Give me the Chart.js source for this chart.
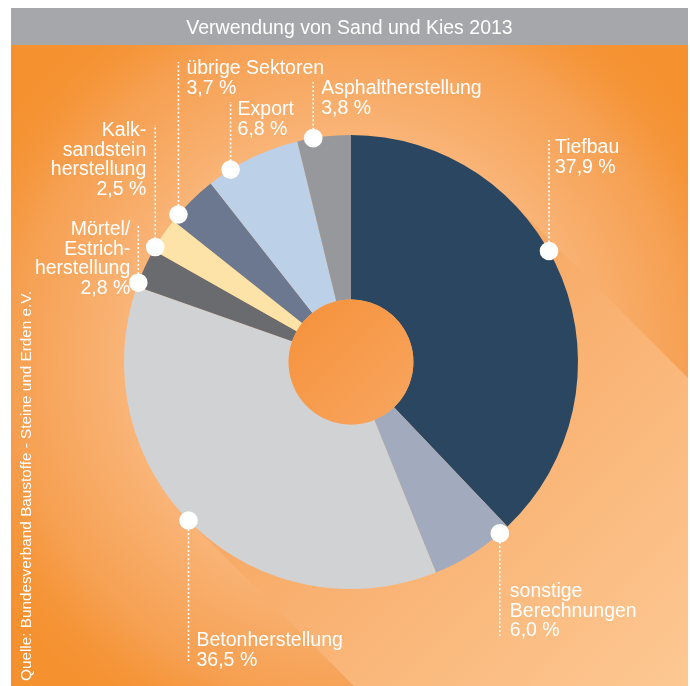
<!DOCTYPE html>
<html lang="de">
<head>
<meta charset="utf-8">
<title>Verwendung von Sand und Kies 2013</title>
<script src="https://cdn.jsdelivr.net/npm/chart.js@4.4.1/dist/chart.umd.min.js"></script>
<style>
  html, body { margin: 0; padding: 0; background: #fff; }
  #wrap { width: 690px; height: 686px; }
</style>
</head>
<body>
<div id="wrap"><canvas id="chartSand" width="690" height="686"></canvas></div>
<script>
const TITLE = 'Verwendung von Sand und Kies 2013';
const SOURCE = 'Quelle: Bundesverband Baustoffe - Steine und Erden e.V.';

// clockwise from 12 o'clock
const categories = [
  'Tiefbau',
  'sonstige Berechnungen',
  'Betonherstellung',
  'Mörtel/Estrichherstellung',
  'Kalksandsteinherstellung',
  'übrige Sektoren',
  'Export',
  'Asphaltherstellung',
];
const labelLines = [
  ['Tiefbau'],
  ['sonstige', 'Berechnungen'],
  ['Betonherstellung'],
  ['Mörtel/', 'Estrich-', 'herstellung'],
  ['Kalk-', 'sandstein', 'herstellung'],
  ['übrige Sektoren'],
  ['Export'],
  ['Asphaltherstellung'],
];
const shares = [37.9, 6.0, 36.5, 2.8, 2.5, 3.7, 6.8, 3.8];
const sliceColors = ['#2b4661', '#a2abbd', '#d1d2d4', '#6a6b6e', '#fde3a7', '#6b7890', '#bcd1e7', '#97989c'];

// callout layout: where the dot sits inside the slice (0..1), text side, gap, first baseline, end of dotted line
const callouts = [
  { t: 0.445, align: 'left', gap: 6, base: 153, lineEnd: 140 },
  { t: 0.12, align: 'left', gap: 10, base: 597, lineEnd: 636 },
  { t: 0.515, align: 'left', gap: 8, base: 646, lineEnd: 663 },
  { t: 0.1, align: 'right', gap: 8, base: 235, lineEnd: 225 },
  { t: 0.1, align: 'right', gap: 9, base: 136, lineEnd: 125 },
  { t: 0.15, align: 'left', gap: 8, base: 74, lineEnd: 62 },
  { t: 0.25, align: 'left', gap: 7, base: 115, lineEnd: 102 },
  { t: 0.3, align: 'left', gap: 8, base: 94, lineEnd: 82 },
];

const FONT = '"Liberation Sans", Arial, sans-serif';
const LINE_HEIGHT = 19.5;
const FRAME = { left: 11, right: 688, top: 8, headerBottom: 45, bottom: 686 };

const percentFormat = (v) => v.toFixed(1).replace('.', ',') + ' %';

function pieGeometry(chart) {
  const arc = chart.getDatasetMeta(0).data[0];
  return { cx: arc.x, cy: arc.y, outer: arc.outerRadius, inner: arc.innerRadius };
}

const backdrop = {
  id: 'backdrop',
  beforeDraw(chart) {
    const ctx = chart.ctx;
    const { cx, cy, outer } = pieGeometry(chart);
    const w = FRAME.right - FRAME.left;
    ctx.save();
    ctx.fillStyle = '#ffffff';
    ctx.fillRect(0, 0, chart.width, chart.height);
    ctx.fillStyle = '#a6a7aa';
    ctx.fillRect(FRAME.left, FRAME.top, w, FRAME.headerBottom - FRAME.top);

    ctx.beginPath();
    ctx.rect(FRAME.left, FRAME.headerBottom, w, FRAME.bottom - FRAME.headerBottom);
    ctx.clip();
    ctx.fillStyle = '#f5912f';
    ctx.fillRect(FRAME.left, FRAME.headerBottom, w, FRAME.bottom - FRAME.headerBottom);

    const glow = ctx.createRadialGradient(cx, cy, outer, cx, cy, outer + 210);
    glow.addColorStop(0, '#f9b477');
    glow.addColorStop(0.55, '#f69f50');
    glow.addColorStop(1, 'rgba(245,145,47,0)');
    ctx.fillStyle = glow;
    ctx.fillRect(FRAME.left, FRAME.headerBottom, w, FRAME.bottom - FRAME.headerBottom);

    // long shadow towards the lower right
    const k = outer / Math.SQRT2;
    const len = 900;
    ctx.beginPath();
    ctx.moveTo(cx + k, cy - k);
    ctx.lineTo(cx + k + len, cy - k + len);
    ctx.lineTo(cx - k + len, cy + k + len);
    ctx.lineTo(cx - k, cy + k);
    ctx.closePath();
    const band = ctx.createLinearGradient(cx, cy, cx + 330, cy + 330);
    band.addColorStop(0, '#f7a762');
    band.addColorStop(1, '#fdc893');
    ctx.fillStyle = band;
    ctx.fill();
    ctx.restore();
  },
  afterDatasetsDraw(chart) {
    const ctx = chart.ctx;
    const { cx, cy, inner } = pieGeometry(chart);
    ctx.save();
    const g = ctx.createLinearGradient(cx - inner, cy - inner, cx + inner, cy + inner);
    g.addColorStop(0, '#f5913a');
    g.addColorStop(1, '#f8a660');
    ctx.fillStyle = g;
    ctx.beginPath();
    ctx.arc(cx, cy, inner, 0, Math.PI * 2);
    ctx.fill();
    ctx.restore();
  },
};

const callout = {
  id: 'callout',
  afterDraw(chart) {
    const ctx = chart.ctx;
    const arcs = chart.getDatasetMeta(0).data;
    ctx.save();
    ctx.font = `19.5px ${FONT}`;
    ctx.textBaseline = 'alphabetic';

    arcs.forEach((arc, i) => {
      const c = callouts[i];
      const a = arc.startAngle + (arc.endAngle - arc.startAngle) * c.t;
      const px = arc.x + arc.outerRadius * Math.cos(a);
      const py = arc.y + arc.outerRadius * Math.sin(a);

      ctx.strokeStyle = '#ffffff';
      ctx.lineWidth = 1.6;
      ctx.setLineDash([2, 2.2]);
      ctx.beginPath();
      ctx.moveTo(px, py);
      ctx.lineTo(px, c.lineEnd);
      ctx.stroke();
      ctx.setLineDash([]);

      ctx.fillStyle = '#ffffff';
      ctx.beginPath();
      ctx.arc(px, py, 9.3, 0, Math.PI * 2);
      ctx.fill();

      const lines = [...labelLines[i], percentFormat(shares[i])];
      ctx.textAlign = c.align;
      const tx = c.align === 'left' ? px + c.gap : px - c.gap;
      lines.forEach((line, j) => ctx.fillText(line, tx, c.base + j * LINE_HEIGHT));
    });

    // title in the grey band
    ctx.textAlign = 'center';
    ctx.fillText(TITLE, (FRAME.left + FRAME.right) / 2, 34);

    // source, running upwards along the left edge
    ctx.font = `15.3px ${FONT}`;
    ctx.translate(31, 681);
    ctx.rotate(-Math.PI / 2);
    ctx.textAlign = 'left';
    ctx.fillText(SOURCE, 0, 0);
    ctx.restore();
  },
};

new Chart(document.getElementById('chartSand').getContext('2d'), {
  type: 'doughnut',
  data: {
    labels: categories,
    datasets: [{
      data: shares,
      backgroundColor: sliceColors,
      borderWidth: 0,
    }],
  },
  options: {
    responsive: false,
    animation: false,
    devicePixelRatio: 1,
    cutout: '27.5%',
    layout: { padding: { left: 124, right: 112, top: 135, bottom: 97 } },
    plugins: {
      legend: { display: false },
      tooltip: { enabled: false },
    },
  },
  plugins: [backdrop, callout],
});
</script>
</body>
</html>
